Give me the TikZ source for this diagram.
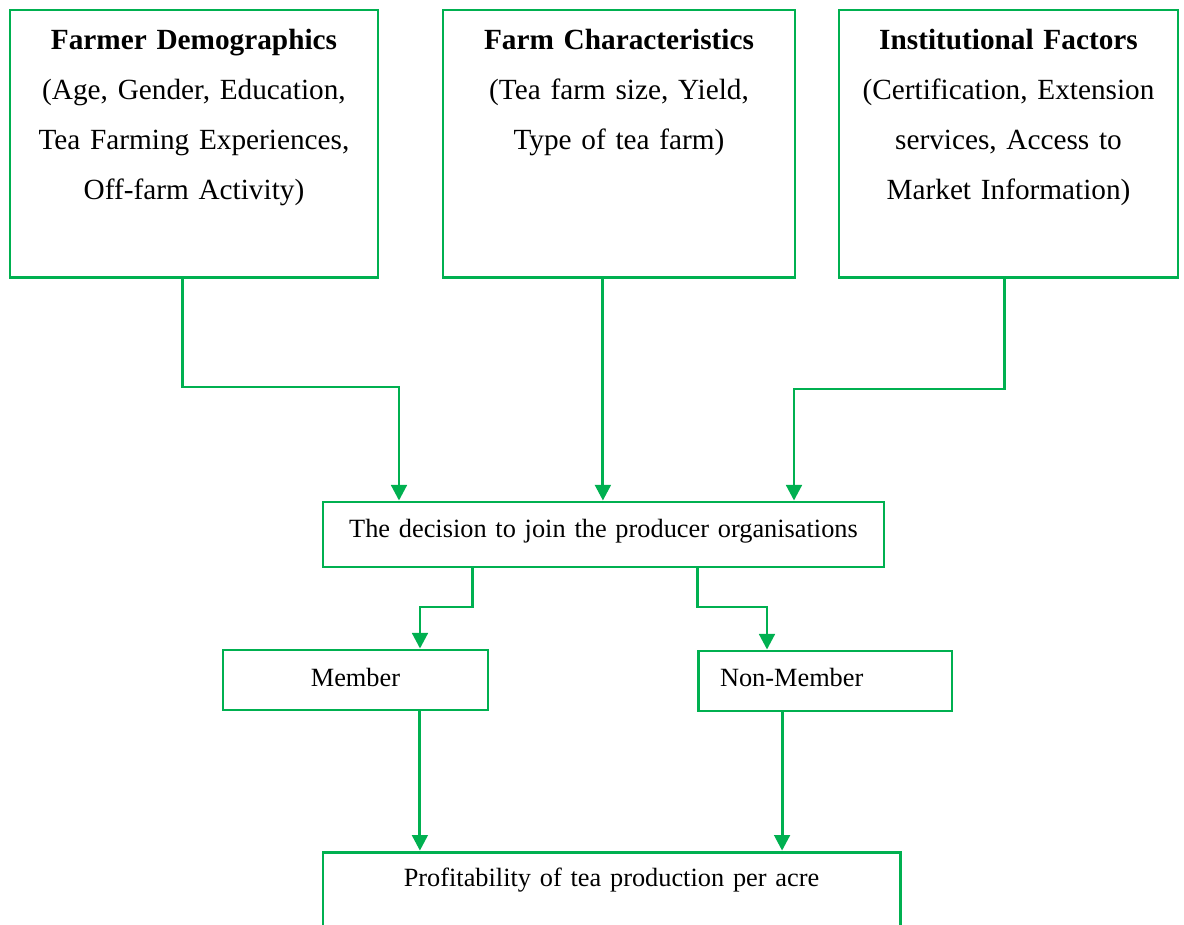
\documentclass[tikz,border=0pt]{standalone}
\usepackage{fontspec}
\setmainfont{Liberation Serif}
\usetikzlibrary{arrows.meta}
\definecolor{linegreen}{RGB}{0,176,80}
\tikzstyle{factor} = [rectangle, draw=linegreen, line width=1.2pt, inner sep=0pt, align=center, text height=16.1pt, text depth=93.4pt, font=\fontsize{12}{20.5}\selectfont]
\tikzstyle{box} = [rectangle, draw=linegreen, line width=1.2pt, inner sep=0pt, font=\fontsize{10.8}{13}\selectfont]
\tikzstyle{arrow} = [draw=linegreen, line width=1.2pt, -{Triangle[width=6.4pt,length=6.4pt]}]

\begin{document}
\begin{tikzpicture}[x=0.41pt, y=-0.41pt]
\useasboundingbox (0,0) rectangle (1184,924);
\node (demographics) [factor, text width=150.9pt] at (194,143.5) {\textbf{Farmer Demographics}\\(Age, Gender, Education,\\Tea Farming Experiences,\\Off-farm Activity)};
\node (farm) [factor, text width=144.3pt] at (619,143.5) {\textbf{Farm Characteristics}\\(Tea farm size, Yield,\\Type of tea farm)};
\node (institutional) [factor, text width=139pt] at (1008.5,143.5) {\textbf{Institutional Factors}\\(Certification, Extension\\services, Access to\\Market Information)};
\node (decision) [box, text width=230pt, align=center, text height=14.35pt, text depth=12.3pt] at (603.5,534.5) {The decision to join the producer organisations};
\node (member) [box, text width=108.65pt, align=center, text height=14.8pt, text depth=9.8pt] at (355.5,680) {Member};
\node (nonmember) [box, text width=86.1pt, inner xsep=9pt, align=left, text height=14.6pt, text depth=10pt] at (825,681) {Non-Member};
\node (profit) [box, text width=236.6pt, align=center, text height=14.2pt, text depth=21.8pt] at (611.5,896) {Profitability of tea production per acre};

% bends of the connectors
\coordinate (bendA) at (399,387);
\coordinate (bendC) at (794,389);
\coordinate (bendM) at (420,607);
\coordinate (bendN) at (767,607);
\coordinate (farmout) at ([xshift=-6.6pt]farm.south);
\coordinate (memberout) at ([xshift=26.4pt]member.south);
\coordinate (nonmemberout) at ([xshift=-17.6pt]nonmember.south);

\draw [arrow] ([xshift=-4.9pt]demographics.south) |- (bendA) -- (bendA |- decision.north);
\draw [arrow] (farmout) -- (farmout |- decision.north);
\draw [arrow] ([xshift=-1.8pt]institutional.south) |- (bendC) -- (bendC |- decision.north);
\draw [arrow] ([xshift=-53.9pt]decision.south) |- (bendM) -- (bendM |- member.north);
\draw [arrow] ([xshift=38.7pt]decision.south) |- (bendN) -- (bendN |- nonmember.north);
\draw [arrow] (memberout) -- (memberout |- profit.north);
\draw [arrow] (nonmemberout) -- (nonmemberout |- profit.north);
\end{tikzpicture}
\end{document}
